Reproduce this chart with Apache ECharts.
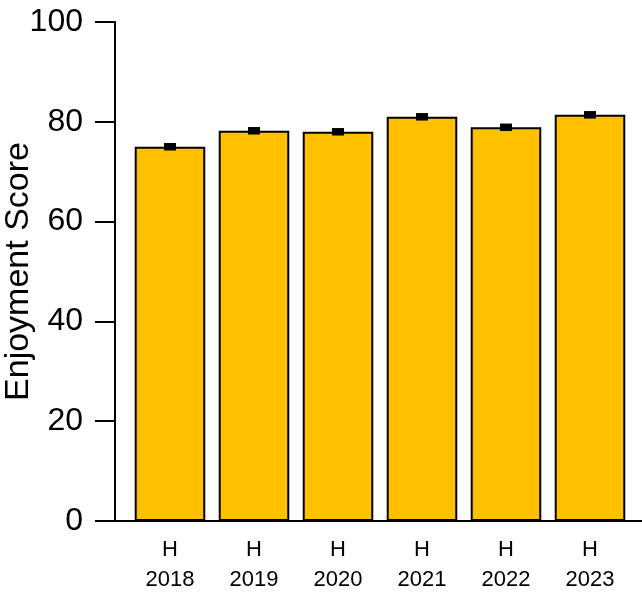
<!DOCTYPE html>
<html>
<head>
<meta charset="utf-8">
<style>
  html, body { margin: 0; padding: 0; background: #fff; }
  #chart { width: 642px; height: 595px; }
</style>
<script src="https://cdn.jsdelivr.net/npm/echarts@6/dist/echarts.min.js"></script>
</head>
<body>
<div id="chart"></div>
<script>
// Enjoyment score by survey year, with standard error
const years = ['2018', '2019', '2020', '2021', '2022', '2023'];
const groupLabel = 'H';
const scores = [75.0, 78.2, 78.0, 81.0, 78.9, 81.4];
const errors = [0.5, 0.5, 0.5, 0.5, 0.5, 0.5];
const yTicks = [0, 20, 40, 60, 80, 100];

const font = '"Liberation Sans", Arial, sans-serif';
const chart = echarts.init(document.getElementById('chart'));

const errorData = years.map((y, i) => [i, scores[i] - errors[i], scores[i] + errors[i]]);

chart.setOption({
  animation: false,
  backgroundColor: '#ffffff',
  grid: [
    { left: 115, right: 0, top: 22, bottom: 74, outerBoundsMode: 'none', containLabel: false },
    { left: 128, right: 10, top: 22, bottom: 74, outerBoundsMode: 'none', containLabel: false }
  ],
  xAxis: [
    {
      gridIndex: 0, type: 'value', min: 0, max: 1,
      axisLine: { show: true, lineStyle: { color: '#000', width: 2 } },
      axisTick: { show: false }, axisLabel: { show: false }, splitLine: { show: false }
    },
    {
      gridIndex: 1, type: 'category', data: years,
      axisLine: { show: false }, axisTick: { show: false },
      axisLabel: {
        margin: 14,
        fontFamily: font, fontSize: 22, lineHeight: 30, color: '#000',
        formatter: v => groupLabel + '\n' + v
      }
    }
  ],
  yAxis: [
    {
      gridIndex: 0, type: 'value', min: yTicks[0], max: yTicks[yTicks.length - 1], interval: 20,
      name: 'Enjoyment Score', nameLocation: 'middle', nameGap: 79, nameMoveOverlap: false,
      nameTextStyle: { fontFamily: font, fontSize: 34, color: '#000' },
      axisLine: { show: true, lineStyle: { color: '#000', width: 2 } },
      axisTick: { show: true, length: 20, lineStyle: { color: '#000', width: 2 } },
      axisLabel: { margin: 32, fontFamily: font, fontSize: 32, color: '#000' },
      splitLine: { show: false }
    },
    {
      gridIndex: 1, type: 'value', min: yTicks[0], max: yTicks[yTicks.length - 1],
      show: false
    }
  ],
  series: [
    {
      type: 'bar', xAxisIndex: 1, yAxisIndex: 1,
      data: scores, barWidth: '84%',
      itemStyle: { color: '#FFC000', borderColor: '#000', borderWidth: 2 }
    },
    {
      type: 'custom', xAxisIndex: 1, yAxisIndex: 1, z: 10,
      data: errorData,
      renderItem: (params, api) => {
        const x = api.value(0);
        const lo = api.coord([x, api.value(1)]);
        const hi = api.coord([x, api.value(2)]);
        const half = 6;
        const style = { stroke: '#000', lineWidth: 2.5 };
        return {
          type: 'group',
          children: [
            { type: 'line', shape: { x1: lo[0], y1: lo[1], x2: hi[0], y2: hi[1] }, style },
            { type: 'line', shape: { x1: lo[0] - half, y1: lo[1], x2: lo[0] + half, y2: lo[1] }, style },
            { type: 'line', shape: { x1: hi[0] - half, y1: hi[1], x2: hi[0] + half, y2: hi[1] }, style },
            { type: 'rect', shape: { x: hi[0] - half, y: hi[1], width: half * 2, height: lo[1] - hi[1] }, style: { fill: '#000' } }
          ]
        };
      }
    }
  ]
});
</script>
</body>
</html>
